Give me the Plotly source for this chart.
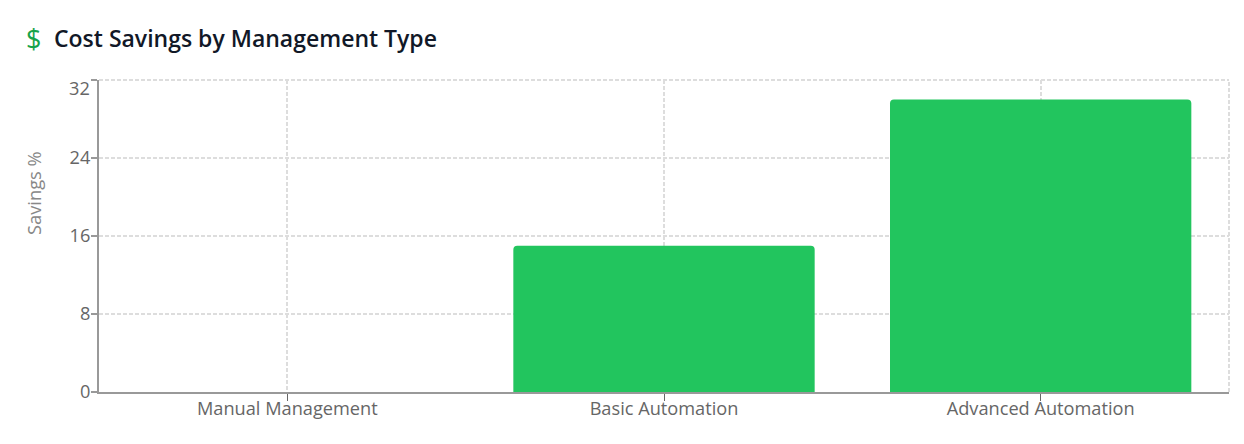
import plotly.graph_objects as go

categories = ['Manual Management', 'Basic Automation', 'Advanced Automation']
savings = [0, 15, 30]
y_ticks = [0, 8, 16, 24, 32]
y_tick_labels = ['0', '8', '16', '24', '']

FONT = 'Open Sans'
GRID = '#dddddd'
GRID_DASH = '4px,2px'
AXIS = '#999999'
TICK_TEXT = '#666666'

fig = go.Figure(go.Bar(x=categories, y=savings, marker=dict(color='#22c55e', line_width=0), hoverinfo='skip'))

# the page keeps an 8px body margin, so the figure is 16px smaller than the window
fig.update_layout(
    width=1228,
    height=428,
    paper_bgcolor='white',
    plot_bgcolor='white',
    showlegend=False,
    bargap=0.2,
    barcornerradius=4,
    margin=dict(l=91, r=6.5, t=72, b=44, autoexpand=False),
    font=dict(family=FONT, size=18, color=TICK_TEXT),
)

fig.update_xaxes(
    range=[-0.5, 2.5],
    showgrid=True,
    gridcolor=GRID,
    griddash=GRID_DASH,
    gridwidth=2,
    showline=True,
    linecolor=AXIS,
    linewidth=2,
    ticks='outside',
    ticklen=7,
    tickcolor='#666666',
    tickwidth=1,
    ticklabelstandoff=-8,
    tickfont=dict(family=FONT, size=18.2, color=TICK_TEXT),
)

fig.update_yaxes(
    range=[0, 32],
    tickvals=y_ticks,
    ticktext=y_tick_labels,
    showgrid=True,
    gridcolor=GRID,
    griddash=GRID_DASH,
    gridwidth=2,
    zeroline=False,
    showline=True,
    linecolor=AXIS,
    linewidth=2,
    ticks='outside',
    ticklen=6,
    tickcolor=AXIS,
    tickwidth=2,
    ticklabelstandoff=-3,
    tickfont=dict(family=FONT, size=18.2, color=TICK_TEXT),
)

# right and top edges of the grid
fig.add_shape(type='line', xref='paper', yref='paper', x0=1, x1=1, y0=0, y1=1,
              line=dict(color=GRID, width=2, dash=GRID_DASH), layer='below')
fig.add_shape(type='line', xref='paper', yref='paper', x0=0, x1=1, y0=1, y1=1,
              line=dict(color=GRID, width=2, dash=GRID_DASH), layer='below')

# top tick label sits lower than its tick
fig.add_annotation(text='32', xref='paper', yref='y', x=0, y=32, xanchor='right', yanchor='middle',
                   xshift=-7, yshift=-8, showarrow=False, font=dict(family=FONT, size=18.2, color=TICK_TEXT))

fig.add_annotation(text='Savings %', xref='paper', yref='paper', x=0, y=0.638, xshift=-65, textangle=-90,
                   xanchor='center', yanchor='middle', showarrow=False,
                   font=dict(family=FONT, size=18.3, color='#888888'))

# header
fig.add_annotation(text='$', xref='paper', yref='paper', x=0, y=1, xshift=-66, yshift=42, xanchor='center',
                   yanchor='middle', showarrow=False, font=dict(family=FONT, size=27, color='#16a34a', weight=400))
fig.add_annotation(text='Cost Savings by Management Type', xref='paper', yref='paper', x=0, y=1, xshift=-47, yshift=42,
                   xanchor='left', yanchor='middle', showarrow=False,
                   font=dict(family=FONT, size=23, color='#111827', weight=600))

fig.write_html('out.html')
